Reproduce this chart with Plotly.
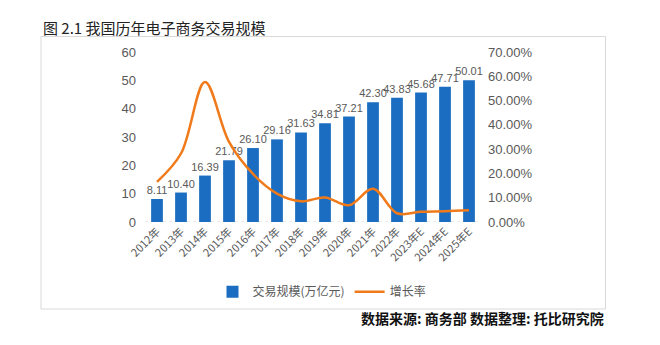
import plotly.graph_objects as go

years = ["2012年", "2013年", "2014年", "2015年", "2016年", "2017年", "2018年",
         "2019年", "2020年", "2021年", "2022年", "2023年E", "2024年E", "2025年E"]
volume = [8.11, 10.40, 16.39, 21.79, 26.10, 29.16, 31.63, 34.81, 37.21, 42.30,
          43.83, 45.68, 47.71, 50.01]
growth = [0.165, 0.282, 0.576, 0.330, 0.198, 0.117, 0.085, 0.101, 0.069, 0.137,
          0.036, 0.042, 0.044, 0.048]
left_ticks = [0, 10, 20, 30, 40, 50, 60]
right_ticks = [0, 0.1, 0.2, 0.3, 0.4, 0.5, 0.6, 0.7]

FONT = "Liberation Sans, Arial, Noto Sans CJK SC, sans-serif"
CJK = "Noto Sans CJK SC, sans-serif"
GRAY = "#595959"

fig = go.Figure()
fig.add_trace(go.Bar(
    x=years, y=volume, name="交易规模(万亿元)",
    marker=dict(color="#1B6DC1", line=dict(width=0)),
    width=0.49,
    text=[f"{v:.2f}" for v in volume], textposition="outside",
    textangle=0, constraintext="none",
    textfont=dict(size=11, color=GRAY, family=FONT),
    cliponaxis=False,
))
fig.add_trace(go.Scatter(
    x=years, y=growth, name="增长率", yaxis="y2", mode="lines",
    line=dict(color="#F07A1A", width=2.5, shape="spline", smoothing=1.0),
))

fig.update_layout(
    width=660, height=345,
    margin=dict(l=145, r=179, t=52, b=123),
    paper_bgcolor="white", plot_bgcolor="white",
    bargap=0.5,
    showlegend=True,
    legend=dict(orientation="h", x=(322 - 145) / 336, xanchor="center", y=-0.41,
                yanchor="middle",
                font=dict(size=12, color=GRAY, family=CJK), itemwidth=30,
                traceorder="normal"),
    xaxis=dict(type="category", tickangle=-45, showgrid=False, showline=False,
               tickfont=dict(size=11, color=GRAY, family=CJK), ticks=""),
    yaxis=dict(range=[0, 60], tickvals=left_ticks, showgrid=False, zeroline=False,
               tickfont=dict(size=13, color=GRAY, family=FONT), ticks="",
               ticklabelstandoff=8),
    yaxis2=dict(range=[0, 0.7], tickvals=right_ticks, tickformat=".2%", overlaying="y",
                side="right", showgrid=False, zeroline=False,
                tickfont=dict(size=13, color=GRAY, family=FONT), ticks="",
                ticklabelstandoff=6),
    shapes=[
        dict(type="rect", xref="paper", yref="paper",
             x0=(41 - 145) / 336, x1=(605.5 - 145) / 336,
             y0=(222 - 309) / 170, y1=(222 - 36.5) / 170,
             line=dict(color="#d9d9d9", width=1), layer="below"),
        dict(type="line", xref="paper", yref="y", x0=0, x1=1, y0=0, y1=0,
             line=dict(color="#cfd8e3", width=1, dash="dot"), layer="below"),
    ],
    annotations=[
        dict(text="图 2.1 我国历年电子商务交易规模", xref="paper", yref="paper",
             x=(41 - 145) / 336, y=(222 - 27) / 170, xanchor="left", yanchor="middle",
             showarrow=False, font=dict(size=15, color="#222222", family=CJK)),
        dict(text="<b>数据来源: 商务部 数据整理: 托比研究院</b>", xref="paper", yref="paper",
             x=(606 - 145) / 336, y=(222 - 318) / 170, xanchor="right", yanchor="middle",
             showarrow=False, font=dict(size=14, color="#111111", family=CJK)),
    ],
)

fig.write_html("out.html")
